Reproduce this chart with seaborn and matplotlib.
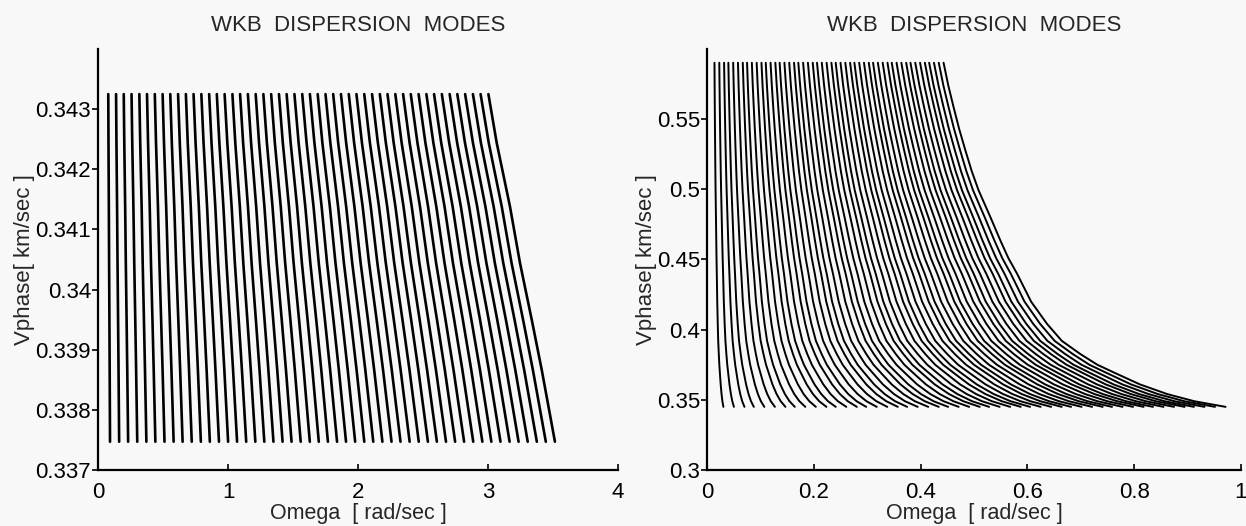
import seaborn as sns
import pandas as pd
import matplotlib.pyplot as plt
import numpy as np

# mode start frequencies (top of each curve)
left_top_omega = [0.079, 0.139, 0.198, 0.258, 0.318, 0.377, 0.437, 0.497, 0.556, 0.616,
                  0.676, 0.735, 0.795, 0.855, 0.914, 0.974, 1.034, 1.093, 1.153, 1.213,
                  1.272, 1.332, 1.392, 1.451, 1.511, 1.571, 1.630, 1.690, 1.750, 1.809,
                  1.869, 1.929, 1.988, 2.048, 2.108, 2.168, 2.227, 2.287, 2.347, 2.406,
                  2.466, 2.526, 2.585, 2.645, 2.705, 2.764, 2.824, 2.884, 2.943, 3.003]
right_top_omega = [0.014, 0.023, 0.032, 0.040, 0.049, 0.058, 0.067, 0.075, 0.084, 0.093,
                   0.102, 0.110, 0.119, 0.128, 0.136, 0.145, 0.154, 0.163, 0.171, 0.180,
                   0.189, 0.198, 0.206, 0.215, 0.224, 0.233, 0.241, 0.250, 0.259, 0.268,
                   0.276, 0.285, 0.294, 0.303, 0.311, 0.320, 0.329, 0.338, 0.346, 0.355,
                   0.364, 0.373, 0.381, 0.390, 0.399, 0.408, 0.416, 0.425, 0.434, 0.443]

# shape of one mode: vphase levels and omega / omega_top
left_vphase = [0.34325, 0.34244, 0.34138, 0.34044, 0.33950, 0.33867, 0.33747]
left_ratio = [1.0, 1.0213, 1.0553, 1.0810, 1.1110, 1.1365, 1.1705]
right_vphase = [0.5902, 0.5740, 0.5588, 0.5430, 0.5279, 0.5130, 0.4993, 0.4802,
                0.4636, 0.4510, 0.4398, 0.4200, 0.4041, 0.3920, 0.3826, 0.3750,
                0.3684, 0.3610, 0.3541, 0.3490, 0.3450]
right_ratio = [1.0, 1.020, 1.042, 1.066, 1.092, 1.119, 1.148, 1.198,
               1.240, 1.274, 1.311, 1.370, 1.4375, 1.500, 1.5785, 1.650,
               1.734, 1.830, 1.9455, 2.060, 2.192]

left_xticks = [0, 1, 2, 3, 4]
left_xlabels = ["0", "1", "2", "3", "4"]
left_yticks = [0.337, 0.338, 0.339, 0.340, 0.341, 0.342, 0.343]
left_ylabels = ["0.337", "0.338", "0.339", "0.34", "0.341", "0.342", "0.343"]
right_xticks = [0, 0.2, 0.4, 0.6, 0.8, 1.0]
right_xlabels = ["0", "0.2", "0.4", "0.6", "0.8", "1"]
right_yticks = [0.30, 0.35, 0.40, 0.45, 0.50, 0.55]
right_ylabels = ["0.3", "0.35", "0.4", "0.45", "0.5", "0.55"]

title = "WKB  DISPERSION  MODES"
xlab = "Omega  [ rad/sec ]"
ylab = "Vphase[ km/sec ]"


def modes_frame(tops, vphase, ratio):
    rows = []
    for i, w0 in enumerate(tops):
        for v, r in zip(vphase, ratio):
            rows.append({"mode": i, "omega": w0 * r, "vphase": v})
    return pd.DataFrame(rows)


df_left = modes_frame(left_top_omega, left_vphase, left_ratio)
df_right = modes_frame(right_top_omega, right_vphase, right_ratio)

sns.set_theme(style="ticks")
bg = "#f8f8f8"
plt.rcParams["font.family"] = ["Liberation Sans", "DejaVu Sans"]
plt.rcParams["font.size"] = 16

fig = plt.figure(figsize=(12.46, 5.26), dpi=100, facecolor=bg)
ax1 = fig.add_axes([98 / 1246, 56 / 526, 520 / 1246, 421 / 526])
ax2 = fig.add_axes([707 / 1246, 56 / 526, 534 / 1246, 421 / 526])

sns.lineplot(data=df_left, x="omega", y="vphase", units="mode", estimator=None,
             sort=False, color="black", linewidth=1.9, ax=ax1)
sns.lineplot(data=df_right, x="omega", y="vphase", units="mode", estimator=None,
             sort=False, color="black", linewidth=1.4, ax=ax2)

setup = [
    (ax1, (0, 4), (0.337, 0.344), left_xticks, left_xlabels, left_yticks, left_ylabels),
    (ax2, (0, 1), (0.3, 0.6), right_xticks, right_xlabels, right_yticks, right_ylabels),
]
for ax, xl, yl, xt, xtl, yt, ytl in setup:
    ax.set_facecolor(bg)
    ax.set_xlim(*xl)
    ax.set_ylim(*yl)
    ax.set_xticks(xt)
    ax.set_xticklabels(xtl, fontsize=16)
    ax.set_yticks(yt)
    ax.set_yticklabels(ytl, fontsize=16)
    for s in ["top", "right"]:
        ax.spines[s].set_visible(False)
    for s in ["left", "bottom"]:
        ax.spines[s].set_color("black")
        ax.spines[s].set_linewidth(1.6)
    ax.tick_params(axis="x", direction="in", length=4, width=1.2, pad=9, colors="black")
    ax.tick_params(axis="y", direction="out", length=4, width=1.2, pad=1, colors="black")
    ax.set_xlabel(xlab, fontsize=15.5, labelpad=0)
    ax.set_ylabel(ylab, fontsize=16, labelpad=0)
    ax.set_title(title, fontsize=16, pad=13)

plt.savefig("out.png", dpi=100, facecolor=bg)
